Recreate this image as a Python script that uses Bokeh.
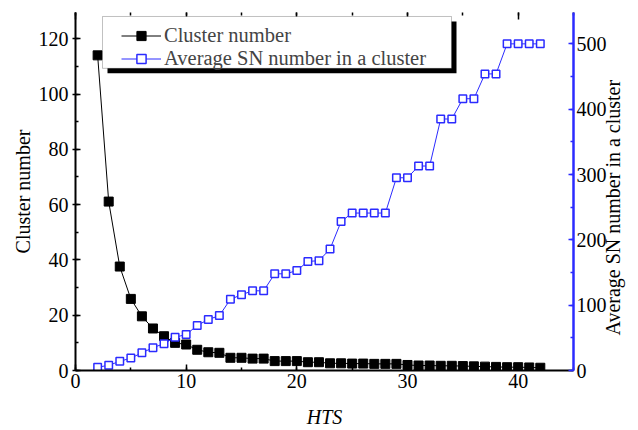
import math
from bokeh.plotting import figure
from bokeh.models import (Range1d, LinearAxis, SingleIntervalTicker, Legend, LegendItem,
                          BoxAnnotation)
from bokeh.embed import file_html
from bokeh.resources import INLINE

# ---------------- data ----------------
hts = list(range(2, 43))
cluster_number = [114, 61.1, 37.6, 25.9, 19.6, 15.2, 12.4, 10.0, 9.4, 7.5, 6.6, 6.4, 4.6, 4.6,
                  4.3, 4.3, 3.4, 3.4, 3.4, 3.0, 3.0, 2.6, 2.6, 2.5, 2.5, 2.4, 2.4, 2.4, 2.0, 1.8,
                  1.8, 1.7, 1.7, 1.6, 1.5, 1.4, 1.3, 1.2, 1.2, 1.1, 1.0]
avg_sn = [5, 8, 14, 19, 27, 35, 41, 51, 55, 69, 78, 84, 109, 116, 122, 122, 148, 148, 153, 167,
          168, 186, 228, 241, 241, 241, 241, 295, 295, 313, 313, 385, 385, 416, 416, 454, 454,
          500, 500, 500, 500]

x_label = "HTS"
y_left_label = "Cluster number"
y_right_label = "Average SN number in a cluster"
series_names = ["Cluster number", "Average SN number in a cluster"]

# ---------------- layout constants ----------------
W, H = 638, 430
FL, FR, FT, FB = 75, 573, 12, 371       # frame edges in px
XMAX, YLMAX, YRMAX = 45, 129.5, 548
FONT = "Liberation Serif"
BLUE = "#2b2bff"

p = figure(width=W, height=H, output_backend="svg", toolbar_location=None,
           x_range=Range1d(0, XMAX), y_range=Range1d(0, YLMAX),
           min_border_left=FL, min_border_right=W - FR,
           min_border_top=FT, min_border_bottom=H - FB,
           x_axis_location=None, y_axis_location=None)
p.extra_y_ranges = {"right": Range1d(0, YRMAX)}
p.xgrid.visible = False
p.ygrid.visible = False
p.outline_line_color = None
p.background_fill_color = "white"
p.border_fill_color = "white"

def px_x(px):
    return (px - FL) / (FR - FL) * XMAX

def px_yl(py):
    return (FB - py) / (FB - FT) * YLMAX

# axes
def style(ax, color="black"):
    ax.major_label_text_font = FONT
    ax.major_label_text_font_size = "20px"
    ax.major_label_text_color = "black"
    ax.axis_label_text_font = FONT
    ax.axis_label_text_font_size = "20px"
    ax.axis_label_text_font_style = "normal"
    ax.axis_label_text_color = "black"
    ax.axis_line_color = color
    ax.axis_line_width = 2
    ax.major_tick_line_color = color
    ax.minor_tick_line_color = color
    ax.major_tick_line_width = 1.5
    ax.minor_tick_line_width = 1.5

xb = LinearAxis(ticker=SingleIntervalTicker(interval=10, num_minor_ticks=2), axis_label=x_label)
style(xb)
xb.major_tick_in = 6
xb.major_tick_out = 0
xb.minor_tick_in = 3
xb.minor_tick_out = 0
xb.major_label_standoff = 3
xb.axis_label_standoff = 15
xb.axis_label_text_font_style = "italic"
p.add_layout(xb, "below")

xt = LinearAxis(ticker=SingleIntervalTicker(interval=10, num_minor_ticks=2))
style(xt)
xt.axis_line_color = None
xt.major_tick_in = 7
xt.major_tick_out = 0
xt.minor_tick_in = 3
xt.minor_tick_out = 0
xt.major_label_text_font_size = "1px"
xt.major_label_text_alpha = 0
xt.major_label_standoff = 0
p.add_layout(xt, "above")

yl = LinearAxis(ticker=SingleIntervalTicker(interval=20, num_minor_ticks=2), axis_label=y_left_label)
style(yl)
yl.major_tick_in = 5
yl.major_tick_out = 3
yl.minor_tick_in = 3
yl.minor_tick_out = 0
yl.major_label_standoff = 4
yl.axis_label_standoff = 2
p.add_layout(yl, "left")

# right-axis title reads bottom-to-top, starting a little above the axis start
yr = LinearAxis(y_range_name="right", ticker=SingleIntervalTicker(interval=100, num_minor_ticks=2),
                axis_label="\u00a0" * 7 + y_right_label)
style(yr, BLUE)
yr.axis_line_width = 2.5
yr.major_tick_in = 5
yr.major_tick_out = 0
yr.minor_tick_in = 3
yr.minor_tick_out = 0
yr.major_label_standoff = 3
yr.axis_label_standoff = 3
yr.axis_label_orientation = math.pi / 2
yr.axis_label_align = "start"
p.add_layout(yr, "right")

# series
l1 = p.line(hts, cluster_number, line_color="black", line_width=1)
s1 = p.scatter(hts, cluster_number, marker="square", size=9, fill_color="black", line_color="black")
l2 = p.line(hts, avg_sn, line_color=BLUE, line_width=1, y_range_name="right")
s2 = p.scatter(hts, avg_sn, marker="square", size=7.5, fill_color="white", line_color=BLUE,
               line_width=1.5, y_range_name="right")

# legend frame + shadow
shadow = BoxAnnotation(left=px_x(107), right=px_x(456), top=px_yl(21), bottom=px_yl(73),
                       fill_color="black", fill_alpha=1, line_color=None)
box = BoxAnnotation(left=px_x(102), right=px_x(451), top=px_yl(16), bottom=px_yl(68),
                    fill_color="white", fill_alpha=1, line_color="#333333", line_width=1)
p.add_layout(shadow)
p.add_layout(box)

legend = Legend(items=[LegendItem(label=series_names[0], renderers=[l1, s1]),
                       LegendItem(label=series_names[1], renderers=[l2, s2])],
                location=(121 - FL, FB - 70.5),
                padding=4, spacing=0, margin=0,
                glyph_width=40, glyph_height=23, label_height=23, label_standoff=3,
                label_text_font=FONT, label_text_font_size="20.5px",
                border_line_color=None, background_fill_alpha=0)
p.add_layout(legend, "center")

open("out.html", "w").write(file_html(p, INLINE))
